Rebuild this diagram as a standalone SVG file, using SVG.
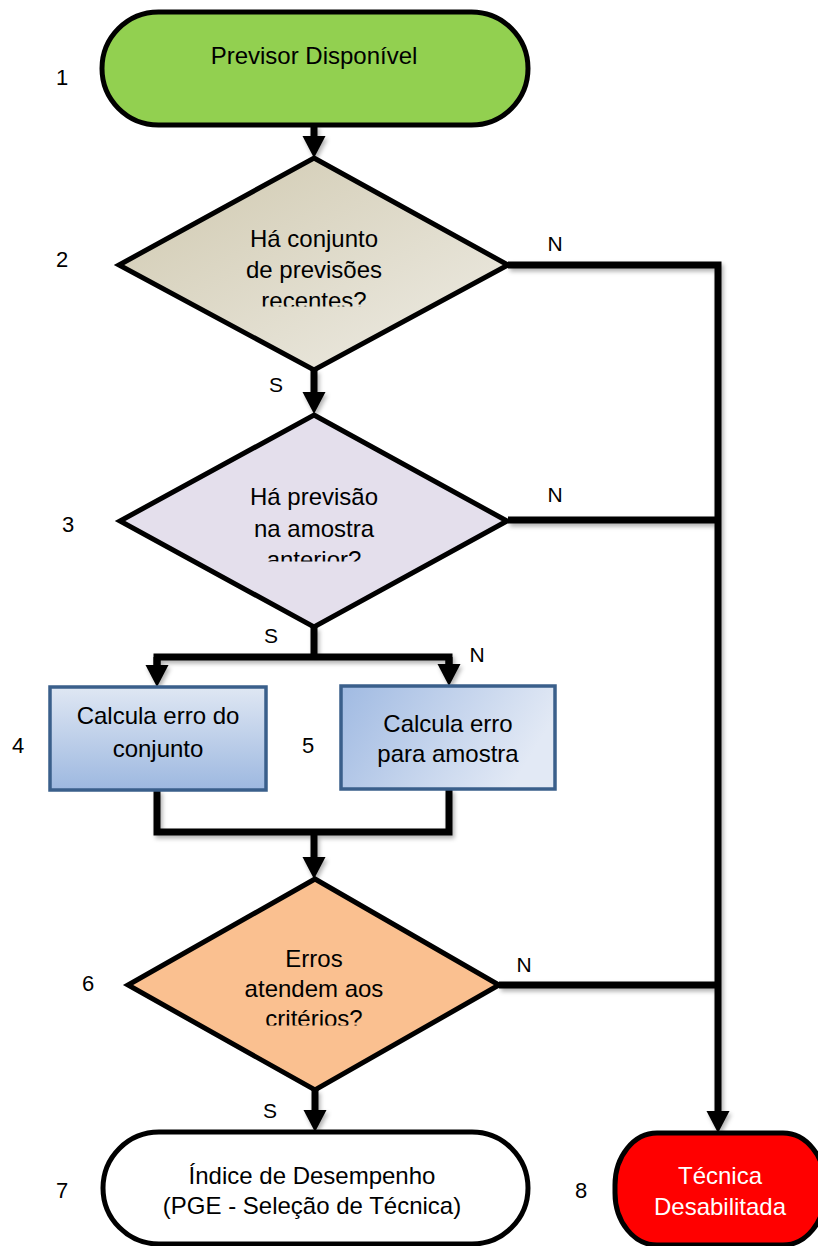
<svg xmlns="http://www.w3.org/2000/svg" width="818" height="1246" viewBox="0 0 818 1246">
  <style>
    text { font-family: "Liberation Sans", Arial, sans-serif; fill: #000; }
    .lbl { font-size: 24px; text-anchor: middle; }
    .num { font-size: 22px; text-anchor: middle; }
    .yn { font-size: 21px; text-anchor: middle; }
    .shape { stroke: #000; stroke-width: 5; stroke-linejoin: miter; }
    .box { stroke: #3A5F8B; stroke-width: 3.5; }
    .wire { fill: none; stroke: #000; stroke-width: 7; stroke-linejoin: miter; }
  </style>
  <defs>
    <marker id="arrow" markerUnits="userSpaceOnUse" markerWidth="24" markerHeight="24" refX="2" refY="11.5" orient="auto">
      <path d="M0,0 L22,11.5 L0,23 Z" fill="#000"/>
    </marker>
    <filter id="shadow" x="-10%" y="-10%" width="120%" height="120%">
      <feDropShadow dx="2" dy="3" stdDeviation="2" flood-color="#000" flood-opacity="0.3"/>
    </filter>
    <linearGradient id="gTan" x1="0" y1="0" x2="1" y2="1">
      <stop offset="0" stop-color="#CFC8AE"/>
      <stop offset="1" stop-color="#EFEDE6"/>
    </linearGradient>
    <linearGradient id="gBoxV" x1="0" y1="0" x2="0" y2="1">
      <stop offset="0" stop-color="#DFE7F3"/>
      <stop offset="1" stop-color="#9DB8E0"/>
    </linearGradient>
    <linearGradient id="gBoxH" x1="0" y1="0" x2="1" y2="0.3">
      <stop offset="0" stop-color="#A0BAE2"/>
      <stop offset="1" stop-color="#E2E9F5"/>
    </linearGradient>
    <clipPath id="clipD2"><rect x="150" y="215" width="330" height="91.5"/></clipPath>
    <clipPath id="clipD3"><rect x="150" y="470" width="330" height="91.5"/></clipPath>
    <clipPath id="clipD6"><rect x="150" y="935" width="330" height="90.5"/></clipPath>
  </defs>

  <!-- connectors -->
  <g id="connectors" filter="url(#shadow)">
    <path class="wire" d="M314,125 V138" marker-end="url(#arrow)"/>
    <path class="wire" d="M314,370 V394" marker-end="url(#arrow)"/>
    <path class="wire" d="M314,627 V657"/>
    <path class="wire" d="M157,667 V657 H449 V666"/>
    <path class="wire" d="M157,657 V667" marker-end="url(#arrow)"/>
    <path class="wire" d="M449,657 V666" marker-end="url(#arrow)"/>
    <path class="wire" d="M157,790 V832 H449 V789"/>
    <path class="wire" d="M314,832 V859" marker-end="url(#arrow)"/>
    <path class="wire" d="M508,265 H718 V1113" marker-end="url(#arrow)"/>
    <path class="wire" d="M508,520 H718"/>
    <path class="wire" d="M499,985 H718"/>
    <path class="wire" d="M315,1090 V1112" marker-end="url(#arrow)"/>
  </g>

  <!-- connector labels -->
  <g id="connector-labels">
    <text class="yn" x="555" y="251">N</text>
    <text class="yn" x="555" y="502">N</text>
    <text class="yn" x="524" y="972">N</text>
    <text class="yn" x="477" y="662">N</text>
    <text class="yn" x="276" y="392">S</text>
    <text class="yn" x="271" y="643">S</text>
    <text class="yn" x="270" y="1118">S</text>
  </g>

  <!-- step numbers -->
  <g id="step-numbers">
    <text class="num" x="62" y="85">1</text>
    <text class="num" x="62" y="267">2</text>
    <text class="num" x="68" y="532">3</text>
    <text class="num" x="18" y="753">4</text>
    <text class="num" x="308" y="753">5</text>
    <text class="num" x="88" y="991">6</text>
    <text class="num" x="62" y="1198">7</text>
    <text class="num" x="581" y="1198">8</text>
  </g>

  <g id="n1-previsor">
    <rect class="shape" x="102" y="12" width="426" height="113" rx="56.5" ry="56.5" fill="#92D050"/>
    <text class="lbl" x="314" y="64">Previsor Disponível</text>
  </g>

  <g id="n2-conjunto">
    <polygon class="shape" points="314,158 508,265 314,370 119,265" fill="url(#gTan)"/>
    <g clip-path="url(#clipD2)">
      <text class="lbl" x="314" y="247">Há conjunto</text>
      <text class="lbl" x="314" y="278">de previsões</text>
      <text class="lbl" x="314" y="309">recentes?</text>
    </g>
  </g>

  <g id="n3-amostra">
    <polygon class="shape" points="314,415 507,521 314,627 120,521" fill="#E4DFEC"/>
    <g clip-path="url(#clipD3)">
      <text class="lbl" x="314" y="505">Há previsão</text>
      <text class="lbl" x="314" y="537">na amostra</text>
      <text class="lbl" x="314" y="568">anterior?</text>
    </g>
  </g>

  <g id="n4-erro-conjunto">
    <rect class="box" x="50" y="687" width="216" height="103" fill="url(#gBoxV)"/>
    <text class="lbl" x="158" y="724">Calcula erro do</text>
    <text class="lbl" x="158" y="757">conjunto</text>
  </g>

  <g id="n5-erro-amostra">
    <rect class="box" x="341" y="686" width="214" height="103" fill="url(#gBoxH)"/>
    <text class="lbl" x="448" y="732">Calcula erro</text>
    <text class="lbl" x="448" y="762">para amostra</text>
  </g>

  <g id="n6-criterios">
    <polygon class="shape" points="315,879 499,985 315,1090 128,985" fill="#FAC090"/>
    <g clip-path="url(#clipD6)">
      <text class="lbl" x="314" y="967">Erros</text>
      <text class="lbl" x="314" y="997">atendem aos</text>
      <text class="lbl" x="314" y="1027">critérios?</text>
    </g>
  </g>

  <g id="n7-indice">
    <rect class="shape" x="103" y="1132" width="425" height="112" rx="56" ry="56" fill="#FFFFFF"/>
    <text class="lbl" x="312" y="1184">Índice de Desempenho</text>
    <text class="lbl" x="312" y="1214">(PGE - Seleção de Técnica)</text>
  </g>

  <g id="n8-desabilitada">
    <rect class="shape" x="615" y="1133" width="210" height="112" rx="42" ry="52" fill="#FF0000"/>
    <text class="lbl" x="720" y="1184" style="fill:#FFFFFF">Técnica</text>
    <text class="lbl" x="720" y="1215" style="fill:#FFFFFF">Desabilitada</text>
  </g>
</svg>
